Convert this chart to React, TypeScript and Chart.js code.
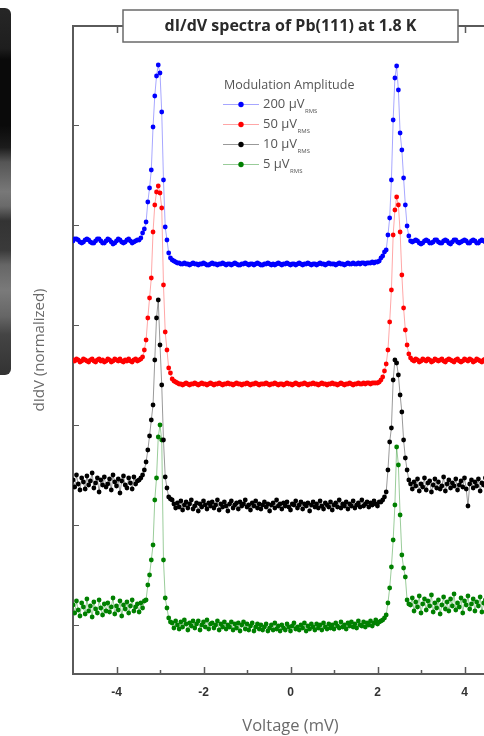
import React, { useEffect, useRef } from 'react';
import { Chart, registerables } from 'chart.js';

Chart.register(...registerables);

// ---- sampling axis (bias voltage, mV) ----
const V_START = -5;
const V_STEP = 0.04;
const V_COUNT = 240;
const VOLTAGE: number[] = Array.from({ length: V_COUNT }, (_, i) => +(V_START + V_STEP * i).toFixed(2));

// ---- series values (normalized dI/dV, vertically offset) ----
const BLUE_200 = [
  3.84,3.86,3.86,3.85,3.83,3.82,3.83,3.85,3.86,3.85,
  3.83,3.82,3.82,3.84,3.86,3.86,3.84,3.82,3.82,3.84,
  3.86,3.85,3.83,3.81,3.82,3.84,3.86,3.85,3.83,3.82,
  3.83,3.85,3.86,3.84,3.82,3.83,3.84,3.85,3.85,3.87,
  3.92,3.96,4.03,4.23,4.37,4.55,4.98,5.29,5.49,5.60,
  5.52,5.13,4.45,3.98,3.85,3.72,3.67,3.65,3.64,3.63,
  3.62,3.62,3.61,3.61,3.62,3.61,3.61,3.60,3.61,3.62,
  3.61,3.61,3.60,3.61,3.61,3.62,3.61,3.60,3.60,3.61,
  3.62,3.61,3.61,3.60,3.61,3.61,3.62,3.61,3.60,3.61,
  3.61,3.60,3.61,3.62,3.61,3.60,3.60,3.61,3.61,3.62,
  3.61,3.60,3.61,3.61,3.60,3.61,3.62,3.61,3.60,3.60,
  3.61,3.61,3.62,3.61,3.60,3.61,3.60,3.61,3.62,3.61,
  3.60,3.61,3.61,3.62,3.61,3.60,3.61,3.61,3.60,3.61,
  3.62,3.61,3.60,3.61,3.61,3.62,3.61,3.60,3.61,3.61,
  3.60,3.61,3.62,3.61,3.61,3.60,3.61,3.62,3.61,3.61,
  3.61,3.60,3.61,3.62,3.61,3.61,3.60,3.61,3.62,3.61,
  3.61,3.62,3.61,3.61,3.62,3.61,3.62,3.62,3.61,3.62,
  3.62,3.62,3.63,3.62,3.63,3.63,3.64,3.67,3.69,3.73,
  3.75,3.90,4.07,4.45,5.05,5.47,5.59,5.35,4.92,4.75,
  4.47,4.20,3.99,3.89,3.84,3.83,3.84,3.85,3.84,3.82,
  3.81,3.82,3.84,3.85,3.84,3.82,3.82,3.83,3.85,3.85,
  3.83,3.82,3.82,3.84,3.85,3.84,3.82,3.81,3.83,3.85,
  3.85,3.83,3.82,3.83,3.84,3.85,3.84,3.82,3.82,3.84,
  3.85,3.84,3.82,3.82,3.84,3.85,3.84,3.83,3.82,3.84,
];

const RED_50 = [
  2.65,2.64,2.66,2.65,2.63,2.64,2.66,2.65,2.64,2.63,
  2.65,2.66,2.64,2.63,2.65,2.66,2.64,2.65,2.63,2.64,
  2.66,2.65,2.63,2.64,2.66,2.65,2.64,2.66,2.64,2.63,
  2.65,2.64,2.66,2.64,2.63,2.65,2.66,2.64,2.65,2.66,
  2.68,2.75,2.85,3.07,3.27,3.47,3.93,4.20,4.33,4.39,
  4.32,4.17,3.40,2.93,2.75,2.57,2.52,2.46,2.44,2.43,
  2.42,2.41,2.41,2.40,2.41,2.42,2.41,2.40,2.41,2.41,
  2.42,2.41,2.40,2.41,2.42,2.41,2.41,2.40,2.41,2.42,
  2.41,2.40,2.41,2.41,2.42,2.41,2.40,2.41,2.41,2.42,
  2.41,2.41,2.40,2.41,2.42,2.41,2.41,2.40,2.41,2.41,
  2.42,2.41,2.40,2.41,2.41,2.42,2.41,2.40,2.41,2.41,
  2.41,2.42,2.41,2.40,2.41,2.41,2.42,2.41,2.40,2.41,
  2.41,2.40,2.41,2.42,2.41,2.41,2.40,2.41,2.42,2.41,
  2.40,2.41,2.41,2.42,2.41,2.40,2.41,2.41,2.42,2.41,
  2.41,2.40,2.41,2.42,2.41,2.41,2.40,2.41,2.41,2.42,
  2.41,2.41,2.40,2.41,2.42,2.41,2.40,2.41,2.41,2.42,
  2.41,2.40,2.41,2.41,2.42,2.41,2.41,2.42,2.41,2.42,
  2.42,2.41,2.42,2.42,2.42,2.42,2.43,2.45,2.48,2.54,
  2.61,2.75,3.03,3.35,3.90,4.15,4.28,4.20,3.93,3.50,
  3.17,2.95,2.80,2.71,2.67,2.65,2.64,2.66,2.65,2.63,
  2.64,2.66,2.65,2.64,2.66,2.65,2.63,2.64,2.66,2.65,
  2.64,2.65,2.66,2.64,2.63,2.65,2.66,2.65,2.64,2.63,
  2.65,2.66,2.64,2.63,2.64,2.66,2.65,2.64,2.66,2.65,
  2.63,2.64,2.66,2.65,2.64,2.63,2.65,2.66,2.64,2.65,
];

const BLACK_10 = [
  1.45,1.38,1.50,1.41,1.35,1.47,1.43,1.36,1.49,1.40,
  1.44,1.52,1.37,1.42,1.47,1.33,1.45,1.40,1.48,1.38,
  1.41,1.46,1.35,1.50,1.43,1.39,1.46,1.32,1.44,1.49,
  1.40,1.37,1.47,1.42,1.36,1.48,1.41,1.44,1.45,1.47,
  1.50,1.55,1.63,1.75,1.89,2.05,2.20,2.65,3.07,3.25,
  2.80,2.40,1.85,1.48,1.37,1.28,1.26,1.25,1.21,1.17,
  1.22,1.18,1.24,1.15,1.20,1.23,1.17,1.21,1.25,1.16,
  1.19,1.22,1.14,1.21,1.18,1.24,1.20,1.16,1.22,1.19,
  1.23,1.17,1.20,1.25,1.15,1.21,1.18,1.23,1.19,1.14,
  1.21,1.24,1.17,1.20,1.22,1.16,1.23,1.19,1.21,1.25,
  1.18,1.20,1.15,1.22,1.19,1.24,1.17,1.21,1.16,1.20,
  1.23,1.18,1.21,1.14,1.20,1.22,1.17,1.25,1.19,1.21,
  1.16,1.22,1.19,1.23,1.18,1.15,1.21,1.20,1.24,1.17,
  1.20,1.23,1.16,1.21,1.19,1.22,1.14,1.20,1.23,1.18,
  1.21,1.17,1.24,1.19,1.16,1.22,1.20,1.18,1.23,1.15,
  1.20,1.22,1.18,1.25,1.17,1.21,1.19,1.23,1.16,1.21,
  1.19,1.24,1.17,1.20,1.22,1.18,1.25,1.19,1.21,1.23,
  1.18,1.22,1.20,1.24,1.21,1.19,1.23,1.23,1.25,1.28,
  1.33,1.55,1.83,1.97,2.45,2.65,2.62,2.50,2.30,2.13,
  1.85,1.67,1.55,1.45,1.41,1.36,1.43,1.39,1.46,1.34,
  1.41,1.38,1.47,1.35,1.42,1.44,1.33,1.40,1.46,1.37,
  1.43,1.36,1.39,1.48,1.34,1.41,1.45,1.37,1.42,1.39,
  1.46,1.35,1.40,1.44,1.38,1.47,1.36,1.19,1.41,1.45,
  1.37,1.43,1.39,1.46,1.34,1.42,1.40,1.47,1.36,1.41,
];

const GREEN_5 = [
  0.20,0.12,0.24,0.15,0.09,0.22,0.18,0.11,0.26,0.14,
  0.19,0.08,0.23,0.16,0.12,0.25,0.17,0.10,0.21,0.14,
  0.22,0.13,0.18,0.27,0.11,0.19,0.15,0.24,0.09,0.20,
  0.16,0.23,0.12,0.19,0.25,0.14,0.18,0.21,0.13,0.22,
  0.17,0.24,0.25,0.40,0.50,0.65,0.80,1.25,1.47,1.88,
  2.00,1.85,0.65,0.27,0.17,0.07,0.03,0.02,-0.03,0.04,
  0.00,-0.04,0.03,-0.02,0.05,0.01,-0.05,0.02,-0.01,0.04,
  -0.03,0.01,0.04,-0.05,0.00,0.03,-0.02,0.05,-0.04,0.01,
  0.02,-0.03,0.00,0.04,-0.05,0.01,-0.02,0.03,-0.04,0.00,
  -0.02,0.03,-0.05,0.01,-0.03,0.02,-0.06,0.00,0.03,-0.04,
  0.01,-0.05,-0.01,0.02,-0.06,-0.02,0.01,-0.04,0.00,-0.05,
  -0.02,0.01,-0.06,-0.03,0.00,-0.05,0.02,-0.04,-0.01,-0.06,
  0.00,-0.03,-0.05,0.01,-0.02,-0.06,-0.01,0.02,-0.04,-0.02,
  -0.05,0.00,-0.03,0.02,-0.06,-0.01,-0.04,0.01,-0.02,-0.05,
  0.01,-0.03,0.00,-0.05,0.02,-0.02,-0.04,0.01,-0.03,0.00,
  -0.04,0.02,-0.01,-0.03,0.03,-0.02,0.00,-0.04,0.02,-0.01,
  0.03,-0.02,0.01,-0.03,0.04,0.00,-0.01,0.03,-0.02,0.02,
  0.00,0.04,-0.01,0.02,0.05,0.01,0.03,0.04,0.05,0.07,
  0.10,0.22,0.37,0.58,0.85,1.20,1.78,1.60,1.10,0.70,
  0.57,0.48,0.25,0.21,0.20,0.27,0.14,0.23,0.18,0.29,
  0.12,0.21,0.26,0.15,0.24,0.19,0.30,0.13,0.22,0.17,
  0.25,0.11,0.20,0.28,0.16,0.23,0.14,0.26,0.19,0.31,
  0.15,0.22,0.18,0.27,0.12,0.24,0.20,0.29,0.16,0.21,
  0.26,0.14,0.23,0.19,0.28,0.13,0.22,0.25,0.17,0.24,
];

// ---- labels ----
const SERIES_LABELS = ['200 µV', '50 µV', '10 µV', '5 µV'];
const SERIES_SUB = 'RMS';
const LEGEND_TITLE = 'Modulation Amplitude';
const CHART_TITLE = 'dI/dV spectra of Pb(111) at 1.8 K';
const X_TITLE = 'Voltage (mV)';
const Y_TITLE = 'dIdV (normalized)';
const X_MAJOR = [-4, -2, 0, 2, 4];
const X_MINOR = [-3, -1, 1, 3];
const Y_TICKS = [0, 1, 2, 3, 4, 5];

// ---- styles ----
const POINT_COLORS = ['#0000ff', '#ff0000', '#000000', '#008000'];
const LINE_COLORS = ['rgba(0,0,255,0.35)', 'rgba(255,0,0,0.35)', 'rgba(0,0,0,0.4)', 'rgba(0,128,0,0.4)'];
const AXIS_COLOR = '#5a5a5a';

const decorPlugin = {
  id: 'decor',
  afterDraw(chart: any) {
    const { ctx, chartArea, scales } = chart;
    const xs = scales.x;
    const ys = scales.y;
    ctx.save();
    ctx.strokeStyle = AXIS_COLOR;
    const seg = (x1: number, y1: number, x2: number, y2: number, w: number) => {
      ctx.lineWidth = w;
      ctx.beginPath();
      ctx.moveTo(x1, y1);
      ctx.lineTo(x2, y2);
      ctx.stroke();
    };
    X_MAJOR.forEach((v) => {
      const px = Math.round(xs.getPixelForValue(v)) + 0.5;
      seg(px, chartArea.bottom, px, chartArea.bottom - 7, 1.5);
      seg(px, chartArea.top, px, chartArea.top + 7, 1.5);
    });
    X_MINOR.forEach((v) => {
      const px = Math.round(xs.getPixelForValue(v)) + 0.5;
      seg(px, chartArea.bottom, px, chartArea.bottom - 4, 1.5);
      seg(px, chartArea.top, px, chartArea.top + 4, 1.5);
    });
    Y_TICKS.forEach((v) => {
      const py = Math.round(ys.getPixelForValue(v)) + 0.5;
      seg(chartArea.left, py, chartArea.left + 6, py, 1);
    });

    // title box
    const bx = 123, by = 10, bw = 335, bh = 32;
    ctx.fillStyle = '#ffffff';
    ctx.fillRect(bx, by, bw, bh);
    ctx.lineWidth = 1.5;
    ctx.strokeStyle = '#6a6a6a';
    ctx.strokeRect(bx, by, bw, bh);
    ctx.fillStyle = '#2a2a2a';
    ctx.font = 'bold 16px "Open Sans"';
    ctx.textAlign = 'center';
    ctx.textBaseline = 'middle';
    ctx.fillText(CHART_TITLE, bx + bw / 2, by + bh / 2);

    // legend
    ctx.textAlign = 'left';
    ctx.fillStyle = '#555555';
    ctx.font = '12.5px "Open Sans"';
    ctx.fillText(LEGEND_TITLE, 224, 85);
    SERIES_LABELS.forEach((label, k) => {
      const ly = 104 + k * 20;
      ctx.strokeStyle = LINE_COLORS[k];
      ctx.lineWidth = 1;
      ctx.beginPath();
      ctx.moveTo(223, ly + 0.5);
      ctx.lineTo(259, ly + 0.5);
      ctx.stroke();
      ctx.fillStyle = POINT_COLORS[k];
      ctx.beginPath();
      ctx.arc(241, ly + 0.5, 2.7, 0, Math.PI * 2);
      ctx.fill();
      ctx.fillStyle = '#555555';
      ctx.font = '13px "Open Sans"';
      ctx.fillText(label, 263, ly);
      const w = ctx.measureText(label).width;
      ctx.font = '6px "Open Sans"';
      ctx.fillText(SERIES_SUB, 263 + w + 0.5, ly + 7);
    });
    ctx.restore();
  },
};

export default function App() {
  const canvasRef = useRef<HTMLCanvasElement | null>(null);

  useEffect(() => {
    const canvas = canvasRef.current;
    if (!canvas) return;
    const seriesValues = [BLUE_200, RED_50, BLACK_10, GREEN_5];
    const chart = new Chart(canvas, {
      type: 'line',
      data: {
        datasets: seriesValues.map((vals, k) => ({
          label: SERIES_LABELS[k] + ' ' + SERIES_SUB,
          data: VOLTAGE.map((v, i) => ({ x: v, y: vals[i] })),
          borderColor: LINE_COLORS[k],
          borderWidth: 1,
          pointRadius: 2.4,
          pointBorderWidth: 0,
          pointBackgroundColor: POINT_COLORS[k],
          pointBorderColor: POINT_COLORS[k],
          tension: 0,
          fill: false,
        })),
      },
      options: {
        animation: false,
        responsive: false,
        events: [],
        layout: { padding: { left: 0, top: 0, right: 12, bottom: 0 } },
        plugins: { legend: { display: false }, tooltip: { enabled: false }, title: { display: false } },
        scales: {
          x: {
            type: 'linear',
            position: 'bottom',
            min: -5,
            max: 5,
            afterBuildTicks: (scale: any) => {
              scale.ticks = X_MAJOR.map((v) => ({ value: v }));
            },
            afterFit: (scale: any) => {
              scale.height = 62;
            },
            grid: { display: false, drawTicks: false },
            border: { display: true, color: AXIS_COLOR, width: 2 },
            ticks: {
              autoSkip: false,
              maxRotation: 0,
              padding: 11,
              color: '#333333',
              font: { family: '"Liberation Sans", Arial, sans-serif', size: 12, weight: 'bold' },
            },
            title: {
              display: true,
              text: X_TITLE,
              color: '#6a6a6a',
              font: { family: '"Open Sans"', size: 16.5 },
              padding: { top: 0, bottom: 0 },
            },
          },
          x2: {
            type: 'linear',
            position: 'top',
            min: -5,
            max: 5,
            afterFit: (scale: any) => {
              scale.height = 26;
            },
            grid: { display: false, drawTicks: false },
            border: { display: true, color: AXIS_COLOR, width: 2 },
            ticks: { display: false },
          },
          y: {
            type: 'linear',
            position: 'left',
            min: -0.49,
            max: 5.99,
            afterFit: (scale: any) => {
              scale.width = 73;
            },
            grid: { display: false, drawTicks: false },
            border: { display: true, color: AXIS_COLOR, width: 2 },
            ticks: { display: false },
            title: {
              display: true,
              text: Y_TITLE,
              color: '#6a6a6a',
              font: { family: '"Open Sans"', size: 15 },
              padding: { top: 31, bottom: 0 },
            },
          },
        },
      },
      plugins: [decorPlugin],
    } as any);
    return () => chart.destroy();
  }, []);

  return (
    <div
      style={{
        position: 'absolute',
        left: 0,
        top: 0,
        width: 484,
        height: 736,
        overflow: 'hidden',
        background: '#ffffff',
      }}
    >
      <canvas ref={canvasRef} width={520} height={736} style={{ display: 'block', width: 520, height: 736 }} />
      <div
        style={{
          position: 'absolute',
          left: 0,
          top: 8,
          width: 11,
          height: 367,
          borderRadius: '0 6px 6px 0',
          background:
            'linear-gradient(to bottom, #262626 0%, #1e1e1e 11%, #0a0a0a 14%, #0a0a0a 32%, #1c1c1c 38%, #555555 42%, #787878 50%, #6a6a6a 54%, #333333 58%, #3a3a3a 66%, #666666 70%, #7a7a7a 77%, #666666 84%, #444444 89%, #333333 100%)',
        }}
      />
    </div>
  );
}
